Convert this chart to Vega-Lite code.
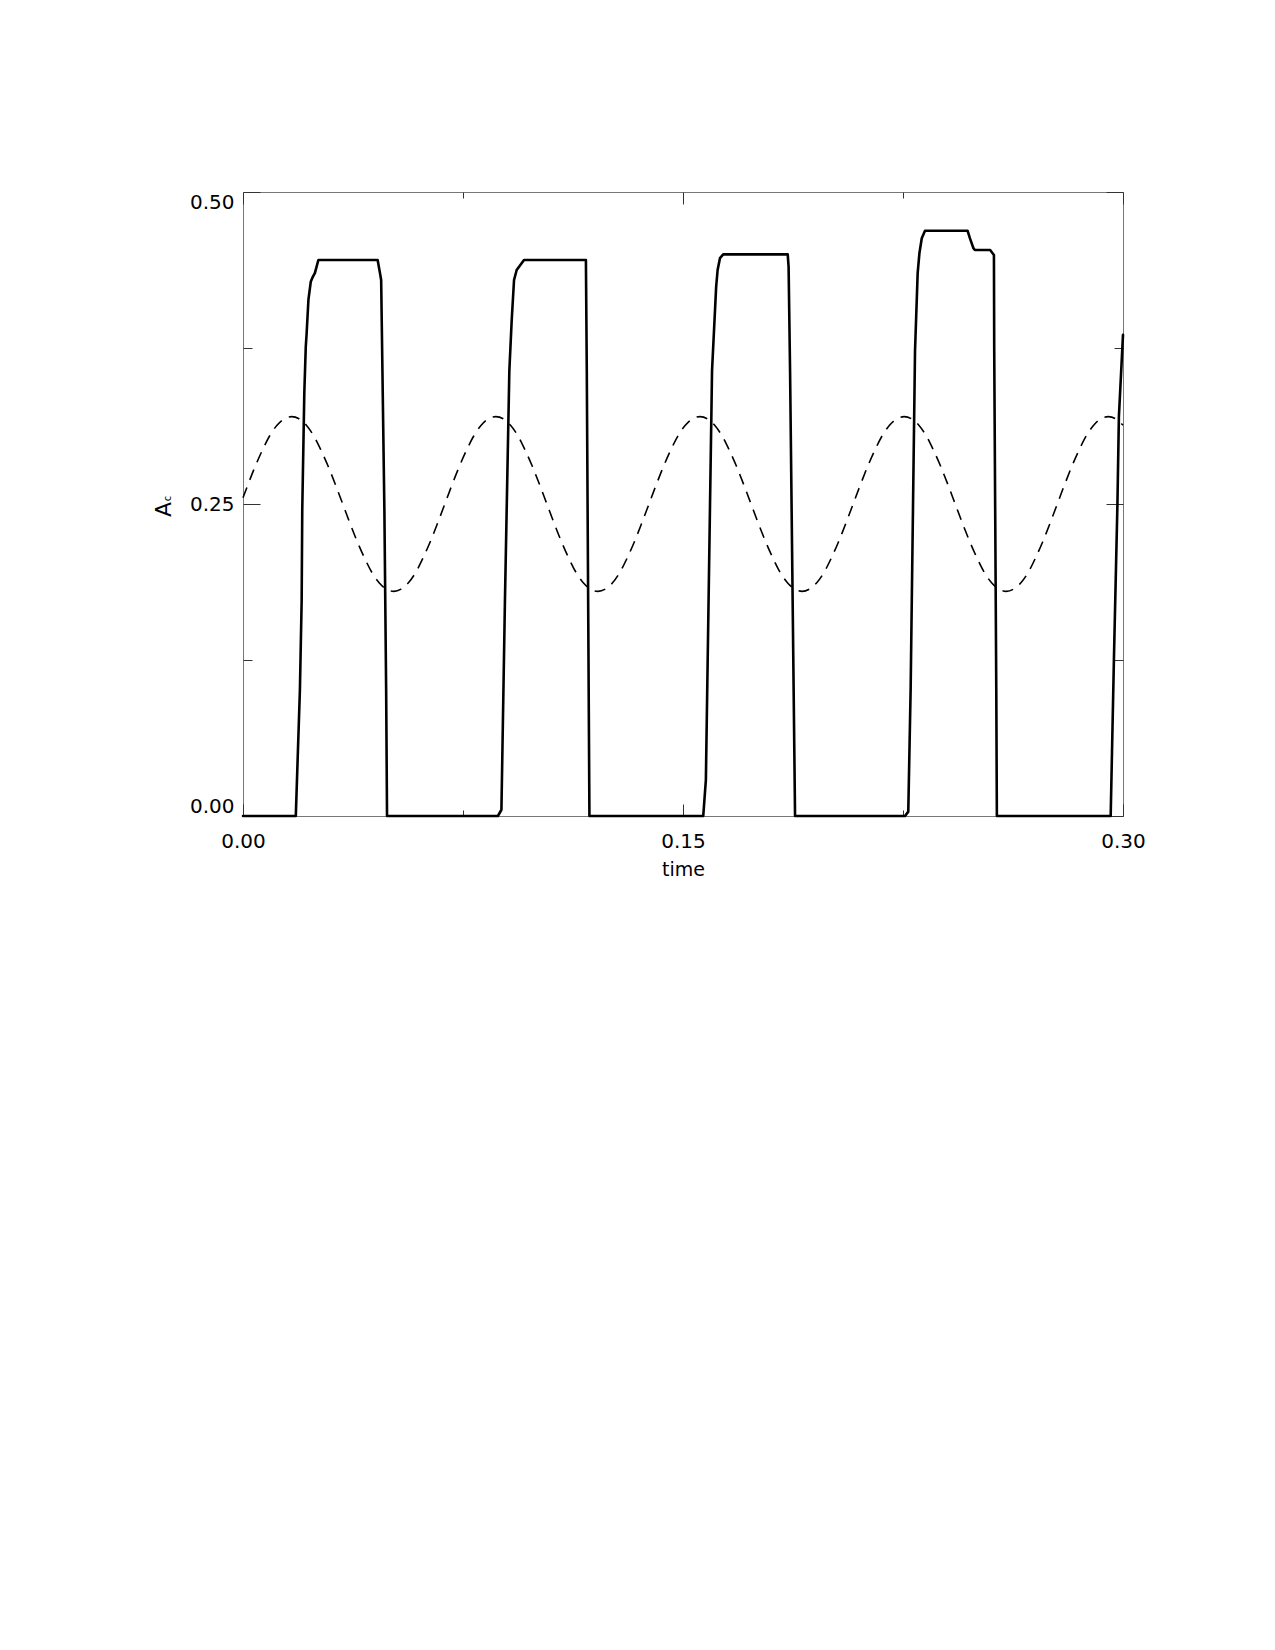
{
  "$schema": "https://vega.github.io/schema/vega-lite/v6.json",
  "autosize": {"type": "none"},
  "padding": {"left": 243, "top": 192, "right": 152, "bottom": 834},
  "width": 880,
  "height": 624,
  "background": "white",
  "config": {
    "view": {"stroke": "#777777", "strokeWidth": 1},
    "axis": {
      "grid": false,
      "domain": false,
      "tickColor": "#333333",
      "tickWidth": 1,
      "labelFont": "DejaVu Sans",
      "labelFontSize": 20,
      "labelColor": "black",
      "titleFont": "DejaVu Sans",
      "titleFontWeight": "normal",
      "titleColor": "black"
    }
  },
  "datasets": {
    "solid": [
      {"time": 0.0, "Ac": 0.0},
      {"time": 0.018, "Ac": 0.0},
      {"time": 0.0194, "Ac": 0.101},
      {"time": 0.02, "Ac": 0.173},
      {"time": 0.0202, "Ac": 0.245},
      {"time": 0.0209, "Ac": 0.339},
      {"time": 0.0214, "Ac": 0.376},
      {"time": 0.0217, "Ac": 0.387},
      {"time": 0.0223, "Ac": 0.4135},
      {"time": 0.0231, "Ac": 0.428},
      {"time": 0.0238, "Ac": 0.432},
      {"time": 0.0245, "Ac": 0.435},
      {"time": 0.0257, "Ac": 0.4455},
      {"time": 0.0459, "Ac": 0.4455},
      {"time": 0.0467, "Ac": 0.435},
      {"time": 0.0471, "Ac": 0.4295},
      {"time": 0.0482, "Ac": 0.245},
      {"time": 0.0488, "Ac": 0.101},
      {"time": 0.0491, "Ac": 0.0},
      {"time": 0.0869, "Ac": 0.0},
      {"time": 0.0881, "Ac": 0.005},
      {"time": 0.0893, "Ac": 0.173},
      {"time": 0.0908, "Ac": 0.357},
      {"time": 0.0916, "Ac": 0.397},
      {"time": 0.0924, "Ac": 0.4295},
      {"time": 0.0933, "Ac": 0.4375},
      {"time": 0.0958, "Ac": 0.4455},
      {"time": 0.1169, "Ac": 0.4455},
      {"time": 0.1172, "Ac": 0.357},
      {"time": 0.1181, "Ac": 0.0},
      {"time": 0.1569, "Ac": 0.0},
      {"time": 0.1578, "Ac": 0.029},
      {"time": 0.1599, "Ac": 0.357},
      {"time": 0.1613, "Ac": 0.424},
      {"time": 0.1618, "Ac": 0.4375},
      {"time": 0.1626, "Ac": 0.447},
      {"time": 0.1637, "Ac": 0.45},
      {"time": 0.1857, "Ac": 0.45},
      {"time": 0.186, "Ac": 0.44},
      {"time": 0.1865, "Ac": 0.357},
      {"time": 0.1882, "Ac": 0.0},
      {"time": 0.2257, "Ac": 0.0},
      {"time": 0.2268, "Ac": 0.0035},
      {"time": 0.2276, "Ac": 0.101},
      {"time": 0.2291, "Ac": 0.373},
      {"time": 0.23, "Ac": 0.435},
      {"time": 0.2306, "Ac": 0.451},
      {"time": 0.2314, "Ac": 0.463},
      {"time": 0.2325, "Ac": 0.469},
      {"time": 0.247, "Ac": 0.469},
      {"time": 0.2478, "Ac": 0.463},
      {"time": 0.249, "Ac": 0.455},
      {"time": 0.2495, "Ac": 0.4535},
      {"time": 0.2547, "Ac": 0.4535},
      {"time": 0.256, "Ac": 0.4495},
      {"time": 0.2561, "Ac": 0.373},
      {"time": 0.2568, "Ac": 0.101},
      {"time": 0.257, "Ac": 0.0},
      {"time": 0.2958, "Ac": 0.0},
      {"time": 0.2969, "Ac": 0.125},
      {"time": 0.2981, "Ac": 0.25},
      {"time": 0.2986, "Ac": 0.32},
      {"time": 0.3, "Ac": 0.3855}
    ],
    "dashed": [
      {"time": 0.0, "Ac": 0.255},
      {"time": 0.0017, "Ac": 0.2656},
      {"time": 0.0042, "Ac": 0.2804},
      {"time": 0.0067, "Ac": 0.2936},
      {"time": 0.0091, "Ac": 0.3047},
      {"time": 0.0116, "Ac": 0.3131},
      {"time": 0.0141, "Ac": 0.3183},
      {"time": 0.0166, "Ac": 0.32},
      {"time": 0.0191, "Ac": 0.3183},
      {"time": 0.0216, "Ac": 0.3131},
      {"time": 0.0241, "Ac": 0.3047},
      {"time": 0.0265, "Ac": 0.2936},
      {"time": 0.029, "Ac": 0.2804},
      {"time": 0.0315, "Ac": 0.2656},
      {"time": 0.034, "Ac": 0.25},
      {"time": 0.0365, "Ac": 0.2344},
      {"time": 0.039, "Ac": 0.2196},
      {"time": 0.0415, "Ac": 0.2064},
      {"time": 0.0439, "Ac": 0.1953},
      {"time": 0.0464, "Ac": 0.1869},
      {"time": 0.0489, "Ac": 0.1818},
      {"time": 0.0514, "Ac": 0.18},
      {"time": 0.0539, "Ac": 0.1818},
      {"time": 0.0564, "Ac": 0.1869},
      {"time": 0.0589, "Ac": 0.1953},
      {"time": 0.0613, "Ac": 0.2064},
      {"time": 0.0638, "Ac": 0.2196},
      {"time": 0.0663, "Ac": 0.2344},
      {"time": 0.0688, "Ac": 0.25},
      {"time": 0.0713, "Ac": 0.2656},
      {"time": 0.0738, "Ac": 0.2804},
      {"time": 0.0763, "Ac": 0.2936},
      {"time": 0.0787, "Ac": 0.3047},
      {"time": 0.0812, "Ac": 0.3131},
      {"time": 0.0837, "Ac": 0.3183},
      {"time": 0.0862, "Ac": 0.32},
      {"time": 0.0887, "Ac": 0.3183},
      {"time": 0.0912, "Ac": 0.3131},
      {"time": 0.0937, "Ac": 0.3047},
      {"time": 0.0961, "Ac": 0.2936},
      {"time": 0.0986, "Ac": 0.2804},
      {"time": 0.1011, "Ac": 0.2656},
      {"time": 0.1036, "Ac": 0.25},
      {"time": 0.1061, "Ac": 0.2344},
      {"time": 0.1086, "Ac": 0.2196},
      {"time": 0.1111, "Ac": 0.2064},
      {"time": 0.1135, "Ac": 0.1953},
      {"time": 0.116, "Ac": 0.1869},
      {"time": 0.1185, "Ac": 0.1818},
      {"time": 0.121, "Ac": 0.18},
      {"time": 0.1235, "Ac": 0.1818},
      {"time": 0.126, "Ac": 0.1869},
      {"time": 0.1285, "Ac": 0.1953},
      {"time": 0.1309, "Ac": 0.2064},
      {"time": 0.1334, "Ac": 0.2196},
      {"time": 0.1359, "Ac": 0.2344},
      {"time": 0.1384, "Ac": 0.25},
      {"time": 0.1409, "Ac": 0.2656},
      {"time": 0.1434, "Ac": 0.2804},
      {"time": 0.1459, "Ac": 0.2936},
      {"time": 0.1483, "Ac": 0.3047},
      {"time": 0.1508, "Ac": 0.3131},
      {"time": 0.1533, "Ac": 0.3183},
      {"time": 0.1558, "Ac": 0.32},
      {"time": 0.1583, "Ac": 0.3183},
      {"time": 0.1608, "Ac": 0.3131},
      {"time": 0.1633, "Ac": 0.3047},
      {"time": 0.1657, "Ac": 0.2936},
      {"time": 0.1682, "Ac": 0.2804},
      {"time": 0.1707, "Ac": 0.2656},
      {"time": 0.1732, "Ac": 0.25},
      {"time": 0.1757, "Ac": 0.2344},
      {"time": 0.1782, "Ac": 0.2196},
      {"time": 0.1807, "Ac": 0.2064},
      {"time": 0.1831, "Ac": 0.1953},
      {"time": 0.1856, "Ac": 0.1869},
      {"time": 0.1881, "Ac": 0.1818},
      {"time": 0.1906, "Ac": 0.18},
      {"time": 0.1931, "Ac": 0.1818},
      {"time": 0.1956, "Ac": 0.1869},
      {"time": 0.1981, "Ac": 0.1953},
      {"time": 0.2005, "Ac": 0.2064},
      {"time": 0.203, "Ac": 0.2196},
      {"time": 0.2055, "Ac": 0.2344},
      {"time": 0.208, "Ac": 0.25},
      {"time": 0.2105, "Ac": 0.2656},
      {"time": 0.213, "Ac": 0.2804},
      {"time": 0.2155, "Ac": 0.2936},
      {"time": 0.2179, "Ac": 0.3047},
      {"time": 0.2204, "Ac": 0.3131},
      {"time": 0.2229, "Ac": 0.3183},
      {"time": 0.2254, "Ac": 0.32},
      {"time": 0.2279, "Ac": 0.3183},
      {"time": 0.2304, "Ac": 0.3131},
      {"time": 0.2329, "Ac": 0.3047},
      {"time": 0.2353, "Ac": 0.2936},
      {"time": 0.2378, "Ac": 0.2804},
      {"time": 0.2403, "Ac": 0.2656},
      {"time": 0.2428, "Ac": 0.25},
      {"time": 0.2453, "Ac": 0.2344},
      {"time": 0.2478, "Ac": 0.2196},
      {"time": 0.2503, "Ac": 0.2064},
      {"time": 0.2527, "Ac": 0.1953},
      {"time": 0.2552, "Ac": 0.1869},
      {"time": 0.2577, "Ac": 0.1818},
      {"time": 0.2602, "Ac": 0.18},
      {"time": 0.2627, "Ac": 0.1818},
      {"time": 0.2652, "Ac": 0.1869},
      {"time": 0.2677, "Ac": 0.1953},
      {"time": 0.2701, "Ac": 0.2064},
      {"time": 0.2726, "Ac": 0.2196},
      {"time": 0.2751, "Ac": 0.2344},
      {"time": 0.2776, "Ac": 0.25},
      {"time": 0.2801, "Ac": 0.2656},
      {"time": 0.2826, "Ac": 0.2804},
      {"time": 0.2851, "Ac": 0.2936},
      {"time": 0.2875, "Ac": 0.3047},
      {"time": 0.29, "Ac": 0.3131},
      {"time": 0.2925, "Ac": 0.3183},
      {"time": 0.295, "Ac": 0.32},
      {"time": 0.2975, "Ac": 0.3183},
      {"time": 0.3, "Ac": 0.3131}
    ]
  },
  "layer": [
    {
      "data": {"name": "solid"},
      "mark": {"type": "line", "color": "black", "strokeWidth": 2.6, "strokeCap": "round", "strokeJoin": "round"},
      "encoding": {
        "x": {
          "field": "time",
          "type": "quantitative",
          "scale": {"domain": [0, 0.3], "nice": false},
          "axis": {
            "orient": "bottom",
            "values": [0, 0.075, 0.15, 0.225, 0.3],
            "labelExpr": "(datum.value < 0.001 || abs(datum.value - 0.15) < 0.001 || datum.value > 0.299) ? format(datum.value, '.2f') : ''",
            "tickSize": {"condition": {"test": "datum.value < 0.001 || abs(datum.value - 0.15) < 0.001 || datum.value > 0.299", "value": -12}, "value": -6},
            "labelFlush": false,
            "labelPadding": 27,
            "title": "time",
            "titleFontSize": 19,
            "titlePadding": 9
          }
        },
        "y": {
          "field": "Ac",
          "type": "quantitative",
          "scale": {"domain": [0, 0.5], "nice": false},
          "axis": {
            "orient": "left",
            "values": [0, 0.125, 0.25, 0.375, 0.5],
            "labelExpr": "abs(datum.value * 4 - round(datum.value * 4)) < 0.001 ? format(datum.value, '.2f') : ''",
            "tickSize": {"condition": {"test": "abs(datum.value * 4 - round(datum.value * 4)) < 0.001", "value": -17}, "value": -9},
            "labelFlush": true,
            "labelPadding": 26,
            "title": "A",
            "titleFontSize": 22,
            "titleAngle": 270,
            "titleAlign": "center",
            "titleBaseline": "alphabetic",
            "titleX": -73,
            "titleY": 317
          }
        }
      }
    },
    {
      "data": {"name": "dashed"},
      "mark": {"type": "line", "color": "black", "strokeWidth": 1.6, "strokeDash": [11, 8], "interpolate": "monotone"},
      "encoding": {
        "x": {
          "field": "time",
          "type": "quantitative",
          "axis": {
            "orient": "top",
            "values": [0, 0.075, 0.15, 0.225, 0.3],
            "labels": false,
            "tickSize": {"condition": {"test": "datum.value < 0.001 || abs(datum.value - 0.15) < 0.001 || datum.value > 0.299", "value": -12}, "value": -6},
            "title": null
          }
        },
        "y": {
          "field": "Ac",
          "type": "quantitative",
          "axis": {
            "orient": "right",
            "values": [0, 0.125, 0.25, 0.375, 0.5],
            "labels": false,
            "tickSize": {"condition": {"test": "abs(datum.value * 4 - round(datum.value * 4)) < 0.001", "value": -17}, "value": -9},
            "title": "c",
            "titleFontSize": 10,
            "titleAngle": 270,
            "titleAlign": "center",
            "titleBaseline": "alphabetic",
            "titleX": -953,
            "titleY": 306
          }
        }
      }
    }
  ],
  "resolve": {"axis": {"x": "independent", "y": "independent"}}
}
